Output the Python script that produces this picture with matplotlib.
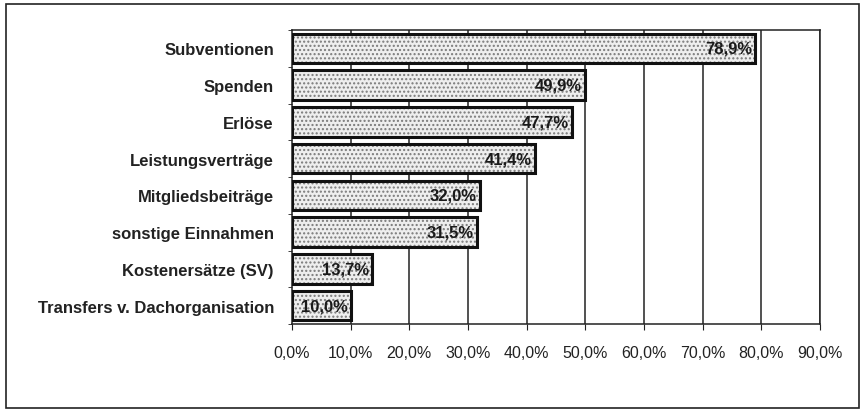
import matplotlib
matplotlib.use('Agg')
import matplotlib.pyplot as plt
from matplotlib.patches import Rectangle

plt.rcParams['font.family'] = ['Liberation Sans', 'DejaVu Sans']
plt.rcParams['hatch.linewidth'] = 1.0

kategorien = ['Subventionen', 'Spenden', 'Erlöse', 'Leistungsverträge',
              'Mitgliedsbeiträge', 'sonstige Einnahmen', 'Kostenersätze (SV)',
              'Transfers v. Dachorganisation']
werte = [78.9, 49.9, 47.7, 41.4, 32.0, 31.5, 13.7, 10.0]
xticks = [0, 10, 20, 30, 40, 50, 60, 70, 80, 90]

fig = plt.figure(figsize=(8.65, 4.14), dpi=100)
ax = fig.add_axes([0.3376, 0.215, 0.6104, 0.71])

# rahmen um die ganze grafik
fig.patches.append(Rectangle((0.007, 0.012), 0.986, 0.975, transform=fig.transFigure,
                             fill=False, edgecolor='#222222', linewidth=1.2))

y = list(range(len(kategorien)))
for xt in xticks[1:]:
    ax.axvline(xt, color='#222222', linewidth=1.1, zorder=1)

# punktraster (grau) und dann schwarzer rand drueber
ax.barh(y, werte, height=0.8, color='#eeeeee', edgecolor='#7a7a7a',
        linewidth=0, hatch='....', zorder=3)
ax.barh(y, werte, height=0.8, fill=False, edgecolor='#111111',
        linewidth=2.2, zorder=3.5)

for yi, w in zip(y, werte):
    txt = f'{w:.1f}%'.replace('.', ',')
    ax.text(w - 0.5, yi, txt, ha='right', va='center', fontsize=12,
            fontweight='bold', color='#1a1a1a', zorder=4)

ax.set_ylim(len(kategorien) - 0.5, -0.5)
ax.set_xlim(0, 90)
ax.set_yticks(y)
ax.set_yticklabels(kategorien, fontsize=12, fontweight='bold', color='#222222')
ax.set_yticks([i + 0.5 for i in range(-1, len(kategorien))], minor=True)
ax.set_xticks(xticks)
ax.set_xticklabels([f'{v:.1f}%'.replace('.', ',') for v in xticks], fontsize=11.5,
                   color='#222222')
ax.tick_params(axis='y', which='major', length=0, pad=13)
ax.tick_params(axis='y', which='minor', length=3, color='#222222')
ax.tick_params(axis='x', length=4, pad=11, color='#222222')
for s in ax.spines.values():
    s.set_color('#222222')
    s.set_linewidth(1.1)

fig.savefig('out.png', dpi=100)
